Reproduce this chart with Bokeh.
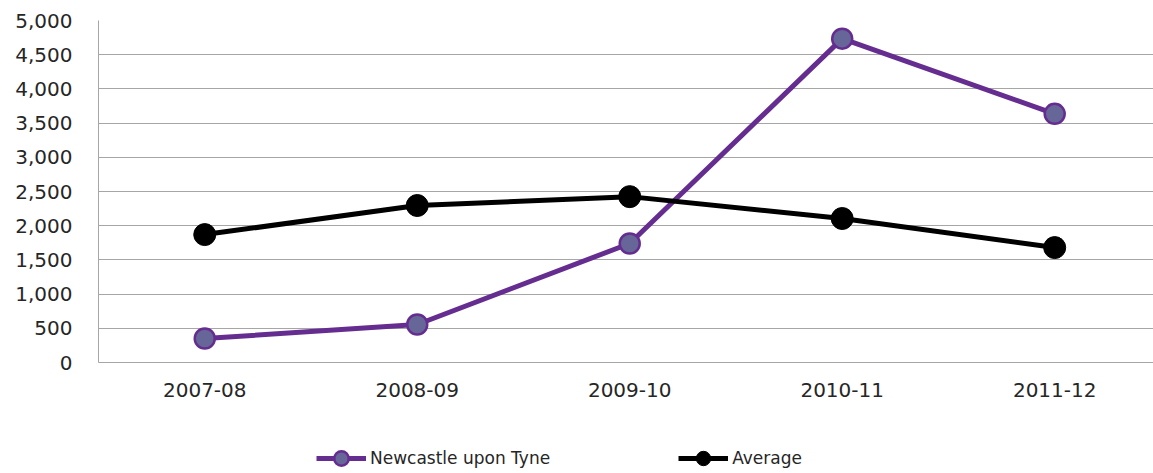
from bokeh.plotting import figure
from bokeh.layouts import column
from bokeh.models import Range1d, FixedTicker, Legend, LegendItem, ColumnDataSource, NumeralTickFormatter
from bokeh.embed import file_html
from bokeh.resources import INLINE

years = ["2007-08", "2008-09", "2009-10", "2010-11", "2011-12"]
newcastle = [350, 555, 1740, 4735, 3635]
average = [1870, 2295, 2425, 2105, 1680]
y_ticks = [0, 500, 1000, 1500, 2000, 2500, 3000, 3500, 4000, 4500, 5000]

xs = list(range(1, len(years) + 1))
src = ColumnDataSource(dict(x=xs, nc=newcastle, avg=average))

FONT = "DejaVu Sans"
TXT = "#262626"
GRID = "#a6a6a6"
PURPLE = "#662d91"
NC_FILL = "#666699"

p = figure(width=1153, height=424, output_backend="svg", toolbar_location=None,
           x_range=Range1d(0.5, 5.465), y_range=Range1d(0, 5000),
           min_border_left=98, min_border_top=20, min_border_right=0, min_border_bottom=62)
p.outline_line_color = None
p.background_fill_color = "white"
p.border_fill_color = "white"

p.xgrid.grid_line_color = None
p.ygrid.grid_line_color = GRID
p.ygrid.grid_line_width = 1
p.yaxis.ticker = FixedTicker(ticks=y_ticks)
p.yaxis.formatter = NumeralTickFormatter(format="0,0")
p.xaxis.ticker = FixedTicker(ticks=xs)
p.xaxis.major_label_overrides = {i: y for i, y in zip(xs, years)}

for ax in (p.xaxis, p.yaxis):
    ax.axis_line_color = GRID
    ax.axis_line_width = 1
    ax.major_tick_line_color = None
    ax.minor_tick_line_color = None
    ax.major_tick_out = 0
    ax.major_tick_in = 0
    ax.major_label_text_font = FONT
    ax.major_label_text_font_size = "20px"
    ax.major_label_text_color = TXT
p.yaxis.major_label_standoff = 26
p.xaxis.major_label_standoff = 20

p.line("x", "nc", source=src, line_color=PURPLE, line_width=5)
p.scatter("x", "nc", source=src, size=20, fill_color=NC_FILL, line_color=PURPLE, line_width=2.5)
p.line("x", "avg", source=src, line_color="black", line_width=5)
p.scatter("x", "avg", source=src, size=22, fill_color="black", line_color="black")

# legend strip (its frame is aligned with the chart frame by the column layout)
lg = figure(width=1153, height=48, output_backend="svg", toolbar_location=None,
            x_range=Range1d(-1, 0), y_range=Range1d(-1, 0),
            min_border_left=0, min_border_top=0, min_border_right=0, min_border_bottom=0)
lg.axis.visible = False
lg.grid.visible = False
lg.outline_line_color = None
# same data, but outside this strip's ranges, so only the legend glyphs show
a1 = lg.line("x", "nc", source=src, line_color=PURPLE, line_width=5)
b1 = lg.scatter("x", "nc", source=src, size=15, fill_color=NC_FILL, line_color=PURPLE, line_width=2.5)
a2 = lg.line("x", "avg", source=src, line_color="black", line_width=5)
b2 = lg.scatter("x", "avg", source=src, size=15, fill_color="black", line_color="black")

legend = Legend(items=[LegendItem(label="Newcastle upon Tyne", renderers=[a1, b1]),
                       LegendItem(label="Average", renderers=[a2, b2])],
                orientation="horizontal", location=(218, -4),
                glyph_width=50, glyph_height=36, label_standoff=4, spacing=128,
                padding=0, margin=0, border_line_color=None, background_fill_alpha=0,
                label_text_font=FONT, label_text_font_size="17px", label_text_color=TXT)
lg.add_layout(legend, "center")

open("out.html", "w").write(file_html(column(p, lg), INLINE))
